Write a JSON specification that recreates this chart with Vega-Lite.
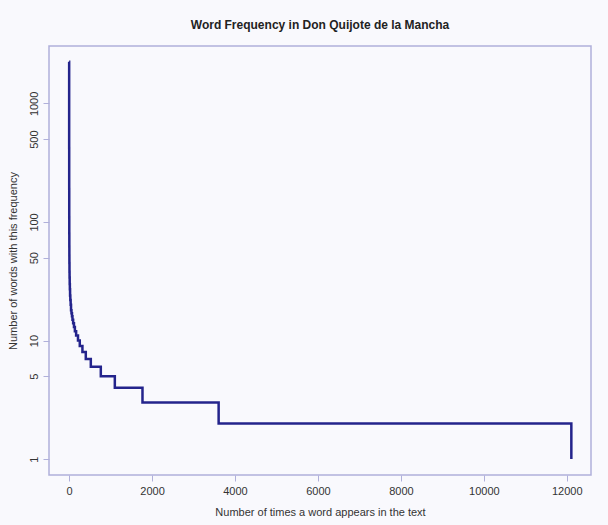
{
  "$schema": "https://vega.github.io/schema/vega-lite/v6.json",
  "autosize": {"type": "none"},
  "width": 542,
  "height": 429,
  "padding": {"left": 49, "top": 46, "right": 17, "bottom": 50},
  "background": "#f9f9fd",
  "title": {
    "text": "Word Frequency in Don Quijote de la Mancha",
    "font": "Liberation Sans",
    "fontSize": 12,
    "fontWeight": "bold",
    "color": "#222222",
    "anchor": "middle",
    "offset": 14
  },
  "config": {
    "view": {"stroke": "#b0b0da", "strokeWidth": 1.5},
    "axis": {
      "domain": false,
      "grid": false,
      "tickColor": "#b0b0da",
      "tickSize": 6,
      "tickWidth": 1,
      "labelFont": "Liberation Sans",
      "labelFontSize": 11,
      "labelColor": "#333333",
      "titleFont": "Liberation Sans",
      "titleFontSize": 11,
      "titleFontWeight": "normal",
      "titleColor": "#333333"
    }
  },
  "data": {
    "values": [
      {"times": 1, "words": 2240},
      {"times": 2, "words": 420},
      {"times": 3, "words": 190},
      {"times": 4, "words": 110},
      {"times": 5, "words": 80},
      {"times": 6, "words": 62},
      {"times": 7, "words": 52},
      {"times": 8, "words": 45},
      {"times": 10, "words": 38},
      {"times": 12, "words": 34},
      {"times": 15, "words": 30},
      {"times": 19, "words": 27},
      {"times": 24, "words": 24},
      {"times": 30, "words": 22},
      {"times": 38, "words": 20},
      {"times": 47, "words": 18},
      {"times": 58, "words": 17},
      {"times": 70, "words": 16},
      {"times": 82, "words": 15},
      {"times": 98, "words": 14},
      {"times": 118, "words": 13},
      {"times": 140, "words": 12},
      {"times": 170, "words": 11},
      {"times": 215, "words": 10},
      {"times": 258, "words": 9},
      {"times": 322, "words": 8},
      {"times": 403, "words": 7},
      {"times": 524, "words": 6},
      {"times": 765, "words": 5},
      {"times": 1103, "words": 4},
      {"times": 1770, "words": 3},
      {"times": 3606, "words": 2},
      {"times": 12110, "words": 1}
    ]
  },
  "mark": {"type": "line", "interpolate": "step-after", "color": "#24248c", "strokeWidth": 2.5, "clip": true},
  "encoding": {
    "x": {
      "field": "times",
      "type": "quantitative",
      "scale": {"domain": [-484, 12584], "nice": false, "zero": false},
      "axis": {
        "title": "Number of times a word appears in the text",
        "values": [0, 2000, 4000, 6000, 8000, 10000, 12000],
        "format": "d",
        "labelPadding": 4,
        "titlePadding": 10
      }
    },
    "y": {
      "field": "words",
      "type": "quantitative",
      "scale": {"type": "log", "domain": [0.734, 3048], "nice": false},
      "axis": {
        "title": "Number of words with this frequency",
        "values": [1, 5, 10, 50, 100, 500, 1000],
        "format": "d",
        "labelAngle": 270,
        "labelAlign": "center",
        "labelBaseline": "bottom",
        "labelPadding": 4,
        "titlePadding": 10
      }
    }
  }
}
